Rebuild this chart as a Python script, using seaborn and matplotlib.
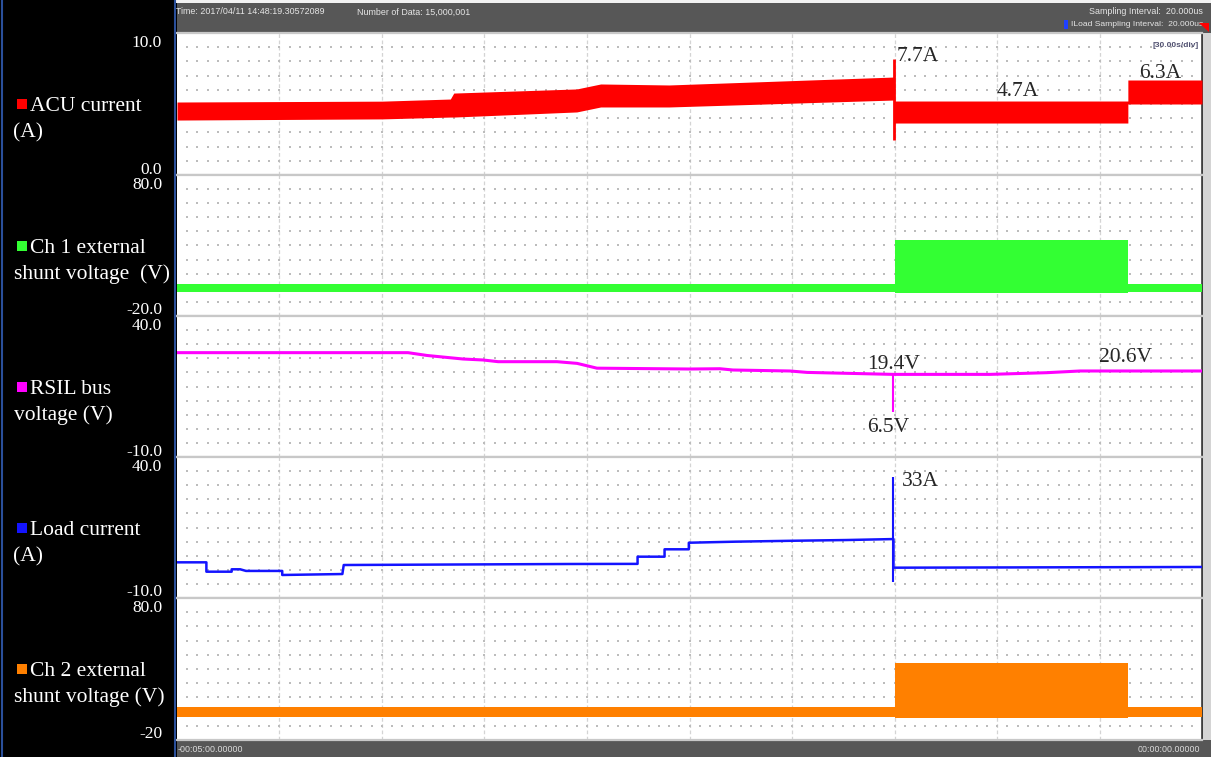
import numpy as np
import matplotlib
matplotlib.use("Agg")
import matplotlib.pyplot as plt
from matplotlib.patches import Rectangle, Polygon
from matplotlib.lines import Line2D
import seaborn as sns

W, H = 1211, 757

# time in seconds, -5 min .. 0
t_min, t_max = -300, 0

# ACU current (A): noisy band given as lower / upper envelope
acu_t = [-300, -240, -220, -219, -183, -176, -156, -90.1, -90.1, -21.7, -21.7, 0]
acu_lo = [3.87, 3.95, 4.08, 4.08, 4.44, 4.79, 4.79, 5.28, 3.66, 3.66, 5.0, 5.0]
acu_hi = [5.14, 5.2, 5.35, 5.77, 6.06, 6.41, 6.34, 6.9, 5.21, 5.21, 6.69, 6.69]
acu_spike = (-90.1, 2.46, 8.17)

# Ch 1 external shunt voltage (V)
ch1_t = [-300, -90, -90, -21.7, -21.7, 0]
ch1_lo = [-3.0, -3.0, -3.7, -3.7, -3.0, -3.0]
ch1_hi = [2.7, 2.7, 33.9, 33.9, 2.7, 2.7]

# RSIL bus voltage (V)
rsil_t = [-300, -232.4, -226.8, -216.3, -210.4, -206.0, -188.8, -182.9, -177.1,
          -149.9, -141.1, -137.3, -120.6, -115.6, -90.4, -62.0, -45.4, -35.7, 0]
rsil_v = [27.0, 27.0, 26.0, 24.75, 24.4, 23.8, 23.8, 23.2, 21.5,
          21.2, 21.3, 20.85, 20.5, 20.0, 19.3, 19.3, 19.9, 20.5, 20.5]
rsil_spike = (-90.4, 6.1, 19.3)

# Load current (A)
load_t = [-300, -291.4, -291.4, -284, -284, -281.5, -279.8, -269.2, -269.2, -251.6,
          -251.2, -185, -165.2, -165.2, -157.3, -157.3, -150.2, -150.2, -136.7,
          -119.7, -103.9, -90.3, -90.3, 0]
load_v = [2.65, 2.65, -0.67, -0.67, 0.18, 0.18, -0.4, -0.4, -1.84, -1.5,
          1.7, 2.06, 2.1, 4.65, 4.65, 7.27, 7.27, 9.6, 9.97,
          10.3, 10.56, 10.9, 0.75, 1.0]
load_spike = (-90.3, -4.2, 33.0)

# Ch 2 external shunt voltage (V)
ch2_t = [-300, -90, -90, -21.7, -21.7, 0]
ch2_lo = [-3.8, -3.8, -4.5, -4.5, -3.8, -3.8]
ch2_hi = [3.2, 3.2, 34.2, 34.2, 3.2, 3.2]

panel_lo = [0, -20, -10, -10, -20]
panel_hi = [10, 80, 40, 40, 80]
top_labels = ["10.0", "80.0", "40.0", "40.0", "80.0"]
bottom_labels = ["0.0", "-20.0", "-10.0", "-10.0", "-20"]
names = [("ACU current", "(A)"), ("Ch 1 external", "shunt voltage  (V)"),
         ("RSIL bus", "voltage (V)"), ("Load current", "(A)"),
         ("Ch 2 external", "shunt voltage (V)")]
colors = ["#ff0000", "#33ff33", "#ff00ff", "#1414ff", "#ff8000"]

sns.set_style("white")
plt.rcParams["font.family"] = ["Liberation Serif", "DejaVu Serif"]

fig = plt.figure(figsize=(W / 100, H / 100), dpi=100)
fig.patch.set_facecolor("#575757")


def fx(x):
    return x / W


def fy(y):
    return 1 - y / H


def rect(x0, y0, x1, y1, color, z=-1):
    fig.add_artist(Rectangle((fx(x0), fy(y1)), (x1 - x0) / W, (y1 - y0) / H,
                             transform=fig.transFigure, facecolor=color,
                             edgecolor="none", zorder=z))


# frame pieces
rect(0, 0, 177, H, "black")
rect(176, 0, W, 3, "#f2f2f2")
rect(1203, 33, W, 740, "#d4d4d4")
fig.add_artist(Line2D([fx(2), fx(2)], [0, 1], color="#2a4f9a", lw=1.5, transform=fig.transFigure))
fig.add_artist(Line2D([fx(174.5), fx(174.5)], [0, 1], color="#2a4f9a", lw=1.5, transform=fig.transFigure))

sans = "Liberation Sans"
fig.text(fx(176), fy(12), "Time: 2017/04/11 14:48:19.30572089", family=sans, size=6.4,
         color="#e6e6e6", va="center", ha="left")
fig.text(fx(357), fy(12), "Number of Data: 15,000,001", family=sans, size=6.4,
         color="#e6e6e6", va="center", ha="left")
fig.text(fx(1203), fy(12), "Sampling Interval:  20.000us", family=sans, size=6.4,
         color="#e6e6e6", va="center", ha="right")
fig.text(fx(1203), fy(24), "ILoad Sampling Interval:  20.000us", family=sans, size=6.1,
         color="#e6e6e6", va="center", ha="right")
rect(1064, 20, 1068, 29, "#2040ff", z=5)
fig.add_artist(Polygon([(fx(1199), fy(23)), (fx(1209), fy(23)), (fx(1209), fy(32))],
                       closed=True, facecolor="red", edgecolor="none",
                       transform=fig.transFigure, zorder=6))
fig.text(fx(178), fy(750), "-00:05:00.00000", family=sans, size=6.4,
         color="#dcdcdc", va="center", ha="left")
fig.text(fx(1200), fy(750), "00:00:00.00000", family=sans, size=6.4,
         color="#dcdcdc", va="center", ha="right")

edges = [33, 175, 316, 457, 598, 740]
axes = []
for i in range(5):
    top, bot = edges[i], edges[i + 1]
    ax = fig.add_axes([fx(177), fy(bot), (1202 - 177) / W, (bot - top) / H])
    lo, hi = panel_lo[i], panel_hi[i]
    ax.set_facecolor("white")
    ax.set_xlim(t_min, t_max)
    ax.set_ylim(lo, hi)
    ax.set_xticks([])
    ax.set_yticks([])
    ax.spines["left"].set_visible(False)
    for s in ["top", "bottom"]:
        ax.spines[s].set_color("#c8c8c8")
        ax.spines[s].set_linewidth(1.6)
    ax.spines["right"].set_color("#3a3a3a")
    ax.spines["right"].set_linewidth(1.2)

    ax.vlines(np.arange(-270, 0, 30), lo, hi, colors="#d4d4d4", lw=0.9,
              linestyles=(0, (3, 2)), zorder=1)
    tt, yy = np.meshgrid(np.arange(-297, 0, 3), lo + (hi - lo) * np.arange(1, 10) / 10)
    ax.scatter(tt.ravel(), yy.ravel(), s=0.9, c="#bcbcbc", marker="s",
               linewidths=0, zorder=1)

    # left-side labels
    fig.text(fx(162), fy(top + 14), top_labels[i], color="white", size=12.5,
             ha="right", va="baseline")
    fig.text(fx(162), fy(bot - 1.5), bottom_labels[i], color="white", size=12.5,
             ha="right", va="baseline")
    rect(17, top + 66, 27, top + 76, colors[i], z=5)
    fig.text(fx(30), fy(top + 78), names[i][0], color="white", size=15.5,
             ha="left", va="baseline")
    fig.text(fx(13.5), fy(top + 104), names[i][1], color="white", size=15.5,
             ha="left", va="baseline")
    axes.append(ax)

ax1, ax2, ax3, ax4, ax5 = axes

# ACU current
ax1.fill_between(acu_t, acu_lo, acu_hi, color=colors[0], lw=0, zorder=3)
ax1.vlines(acu_spike[0], acu_spike[1], acu_spike[2], color=colors[0], lw=2, zorder=3)
ax1.text(-89.3, 8.5, "7.7A", size=15.5, ha="left", va="center_baseline")
ax1.text(-53.8, 6.06, "4.7A", size=15.5, ha="center", va="center_baseline")
ax1.text(-12.3, 7.32, "6.3A", size=15.5, ha="center", va="center_baseline")
ax1.text(-1, 9.1, "[30.00s/div]", family=sans, size=6, color="#505070",
         ha="right", va="center", weight="bold")

# Ch 1
ax2.fill_between(ch1_t, ch1_lo, ch1_hi, color=colors[1], lw=0, zorder=3)

# RSIL bus voltage
sns.lineplot(x=rsil_t, y=rsil_v, ax=ax3, color=colors[2], lw=2.2,
             estimator=None, sort=False, zorder=3)
ax3.vlines(rsil_spike[0], rsil_spike[1], rsil_spike[2], color=colors[2], lw=1.5, zorder=3)
ax3.text(-90.4, 23.7, "19.4V", size=15.5, ha="center", va="center_baseline")
ax3.text(-91.8, 1.35, "6.5V", size=15.5, ha="center", va="center_baseline")
ax3.text(-22.5, 26.2, "20.6V", size=15.5, ha="center", va="center_baseline")

# Load current
sns.lineplot(x=load_t, y=load_v, ax=ax4, color=colors[3], lw=1.8,
             estimator=None, sort=False, zorder=3)
ax4.vlines(load_spike[0], load_spike[1], load_spike[2], color=colors[3], lw=1.5, zorder=3)
ax4.text(-87.8, 32.2, "33A", size=15.5, ha="left", va="center_baseline")

# Ch 2
ax5.fill_between(ch2_t, ch2_lo, ch2_hi, color=colors[4], lw=0, zorder=3)

for ax in axes:
    ax.set_xlabel("")
    ax.set_ylabel("")

fig.savefig("out.png", dpi=100, facecolor=fig.get_facecolor())
